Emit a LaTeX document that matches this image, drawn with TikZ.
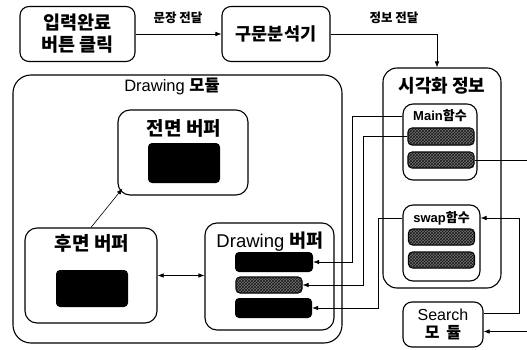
\documentclass[tikz,border=0pt]{standalone}
\usepackage{fontspec}
\setmainfont{Liberation Sans}
\newfontfamily\kr{Noto Sans CJK KR}
\usetikzlibrary{arrows.meta,patterns,calc}
\tikzset{
  box/.style={draw, line width=1.1pt, rounded corners=9pt, inner sep=0pt},
  bigbox/.style={draw, line width=1.1pt, rounded corners=16pt, inner sep=0pt},
  blk/.style={fill=black, rounded corners=4pt, inner sep=0pt},
  hatch/.style={draw=black, line width=1.1pt, fill=black!55, rounded corners=4pt,
    postaction={pattern=crosshatch, pattern color=black!90}, inner sep=0pt},
  conn/.style={line width=0.6pt},
  tip/.style={-{Latex[length=6pt,width=4.5pt]}},
  dtip/.style={{Latex[length=6pt,width=4.5pt]}-{Latex[length=6pt,width=4.5pt]}},
  ttl/.style={inner sep=0pt, font=\kr\bfseries\fontsize{19}{22}\selectfont},
  lbl/.style={inner sep=0pt, font=\kr\bfseries\fontsize{12.5}{14}\selectfont},
  sttl/.style={inner sep=0pt, font=\bfseries\fontsize{13}{15}\selectfont}
}
\begin{document}
\begin{tikzpicture}[x=1pt,y=-1pt]
\useasboundingbox (0,0) rectangle (527,350);

% top row
\node[box, minimum width=115pt, minimum height=55pt, align=center,
  font=\kr\bfseries\fontsize{18.5}{22}\selectfont] (btn) at (77.5,34) {입력완료\\버튼 클릭};
\node[box, minimum width=108pt, minimum height=55pt,
  font=\kr\bfseries\fontsize{17.5}{21}\selectfont] (parser) at (276,34) {구문분석기};
\node[lbl] (l1) at (178,18) {문장 전달};
\node[lbl] (l2) at (394,18) {정보 전달};

% visualisation info
\node[bigbox, rounded corners=14pt, minimum width=118pt, minimum height=220pt] (vis) at (442,178) {};
\node[ttl, font=\kr\bfseries\fontsize{18}{20}\selectfont] (vist) at (442,86) {시각화 정보};

\node[box, rounded corners=10pt, minimum width=74pt, minimum height=76pt] (main) at (440,142) {};
\node[sttl] (mainT) at (440,116) {Main{\kr 함수}};
\node[hatch, minimum width=66pt, minimum height=17pt] (mb1) at (441,136.5) {};
\node[hatch, minimum width=66pt, minimum height=16pt] (mb2) at (441,160) {};

\node[box, rounded corners=10pt, minimum width=77pt, minimum height=76pt] (swap) at (441.5,243) {};
\node[sttl] (swapT) at (441.5,218) {swap{\kr 함수}};
\node[hatch, minimum width=66pt, minimum height=16pt] (sb1) at (441.5,237) {};
\node[hatch, minimum width=66pt, minimum height=16pt] (sb2) at (441.5,260) {};

\node[box, minimum width=80pt, minimum height=45pt, align=center,
  font=\fontsize{16}{18}\selectfont] (search) at (443,324.5) {Search\\{\kr\bfseries 모\hspace{7pt}듈}};

% drawing module
\node[bigbox, rounded corners=18pt, minimum width=329pt, minimum height=268pt] (dm) at (177.5,209) {};
\node[inner sep=0pt, font=\fontsize{16.5}{18}\selectfont] (dmt) at (172,86) {Drawing {\kr\bfseries 모듈}};

\node[box, rounded corners=12pt, minimum width=130pt, minimum height=85pt] (jeon) at (183,152.5) {};
\node[ttl] (jeonT) at (184,128) {전면 버퍼};
\node[blk, minimum width=72pt, minimum height=40pt] (jeonR) at (184,163) {};

\node[box, rounded corners=12pt, minimum width=132pt, minimum height=95pt] (hu) at (91,275.5) {};
\node[ttl] (huT) at (92,243) {후면 버퍼};
\node[blk, minimum width=72pt, minimum height=37pt] (huR) at (92,288.5) {};

\node[box, rounded corners=12pt, minimum width=129pt, minimum height=107pt] (db) at (269.5,276.5) {};
\node[inner sep=0pt, font=\fontsize{18.5}{20}\selectfont] (dbT) at (270,242) {Drawing {\kr\bfseries 버퍼}};
\node[blk, minimum width=78pt, minimum height=20pt] (db1) at (274,262) {};
\node[hatch, minimum width=66pt, minimum height=16pt] (db2) at (269,285) {};
\node[blk, minimum width=77pt, minimum height=20pt] (db3) at (273.5,308) {};

% free ends
\coordinate (outA) at (527,160);
\coordinate (inS) at (527,331.5);

% connectors
\draw[conn,tip] (btn.east) -- (parser.west);
\draw[conn,tip] (parser.east) -| ([xshift=-5pt]vis.north);
\draw[conn,tip] (hu.north) -- ([xshift=5pt,yshift=7pt]jeon.south west);
\draw[conn,dtip] (hu.east) -- (hu.east -| db.west);
\draw[conn,tip] (mainT -| main.west) -- ++(-50,0) |- (db1.east);
\draw[conn,tip] (mb1.west) -- ++(-44,0) |- (db2.east);
\draw[conn,tip] (swapT -| swap.west) -- ++(-24,0) |- (db3.east);
\draw[conn] (mb2.east) -- (outA);
\draw[conn,tip] ([yshift=11pt]search.east) -- (519,313.5) |- (swapT -| swap.east);
\draw[conn,tip] (inS) -- (inS -| search.east);
\end{tikzpicture}
\end{document}
